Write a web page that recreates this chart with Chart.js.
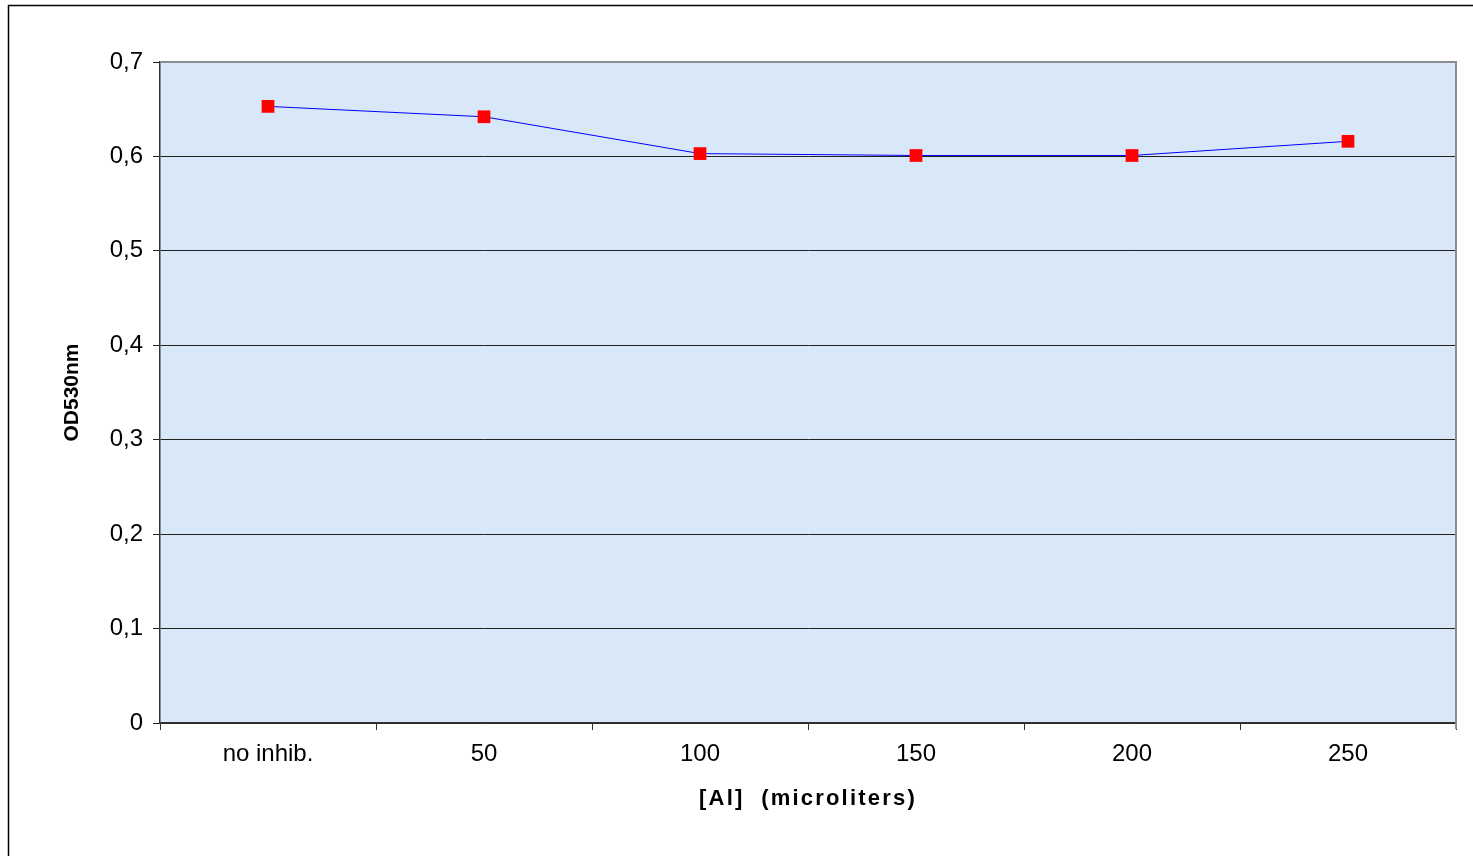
<!DOCTYPE html>
<html>
<head>
<meta charset="utf-8">
<script src="https://cdn.jsdelivr.net/npm/chart.js@4"></script>
<style>
  html, body { margin: 0; padding: 0; background: #fff; }
  #wrap { width: 1473px; height: 856px; }
</style>
</head>
<body>
<div id="wrap"><canvas id="chart" width="1473" height="856"></canvas></div>
<script>
const categories = ["no inhib.", "50", "100", "150", "200", "250"];
const odValues = [0.653, 0.642, 0.603, 0.601, 0.601, 0.616];
const yMin = 0;
const yMax = 0.7;
const yStep = 0.1;

const FONT = "'Liberation Sans', Arial, sans-serif";

// frame around the whole figure + plot area background and border
const framePlugin = {
    id: "frame",
    beforeDraw(chart) {
        const ctx = chart.ctx;
        const a = chart.chartArea;
        ctx.save();
        ctx.fillStyle = "#d9e8f9";
        ctx.fillRect(a.left, a.top, a.right - a.left, a.bottom - a.top);
        ctx.restore();

        // x title is drawn with wider letters, like the original
        const sx = chart.scales.x;
        if (!sx._spaced) {
            const orig = sx.drawTitle;
            sx.drawTitle = function () {
                ctx.save();
                ctx.letterSpacing = "2.2px";
                orig.apply(this, arguments);
                ctx.restore();
            };
            sx._spaced = true;
        }
    },
    afterDraw(chart) {
        const ctx = chart.ctx;
        const a = chart.chartArea;
        ctx.save();
        ctx.strokeStyle = "#000";
        ctx.lineWidth = 1.5;
        ctx.beginPath();
        ctx.moveTo(8.5, 856);
        ctx.lineTo(8.5, 5.5);
        ctx.lineTo(1473, 5.5);
        ctx.stroke();
        ctx.strokeStyle = "#8c8c8c";
        ctx.lineWidth = 2;
        ctx.beginPath();
        ctx.moveTo(a.left, a.top);
        ctx.lineTo(a.right, a.top);
        ctx.lineTo(a.right, a.bottom + 6);
        ctx.stroke();
        ctx.restore();
    }
};

new Chart(document.getElementById("chart"), {
    type: "line",
    data: {
        labels: categories,
        datasets: [{
            data: odValues,
            borderColor: "#0000ff",
            borderWidth: 1,
            pointStyle: "rect",
            pointRadius: 9,
            pointHoverRadius: 9,
            pointBackgroundColor: "#ff0000",
            pointBorderColor: "#ff0000",
            pointBorderWidth: 0,
            tension: 0
        }]
    },
    options: {
        responsive: false,
        animation: false,
        layout: { padding: { left: 0, top: 62, right: 17, bottom: 0 } },
        plugins: {
            legend: { display: false },
            tooltip: { enabled: false }
        },
        scales: {
            x: {
                offset: true,
                afterFit(scale) { scale.height = 133; },
                grid: {
                    offset: true,
                    drawOnChartArea: false,
                    drawTicks: true,
                    tickLength: 7,
                    color: "#333"
                },
                border: { color: "#333", width: 1.5 },
                ticks: {
                    color: "#000",
                    padding: 10,
                    font: { family: FONT, size: 24 }
                },
                title: {
                    display: true,
                    text: "[Al]  (microliters)",
                    color: "#000",
                    padding: { top: 0, bottom: 44 },
                    font: { family: FONT, size: 22, weight: "bold" }
                }
            },
            y: {
                min: yMin,
                max: yMax,
                afterFit(scale) { scale.width = 160; },
                grid: {
                    color: "#222",
                    lineWidth: 1,
                    drawTicks: true,
                    tickLength: 7
                },
                border: { color: "#333", width: 1.5 },
                ticks: {
                    stepSize: yStep,
                    color: "#000",
                    padding: 10,
                    font: { family: FONT, size: 24 },
                    callback: v => v === 0 ? "0" : v.toFixed(1).replace(".", ",")
                },
                title: {
                    display: true,
                    text: "OD530nm",
                    color: "#000",
                    padding: { top: 60, bottom: 0 },
                    font: { family: FONT, size: 21, weight: "bold" }
                }
            }
        }
    },
    plugins: [framePlugin]
});
</script>
</body>
</html>
